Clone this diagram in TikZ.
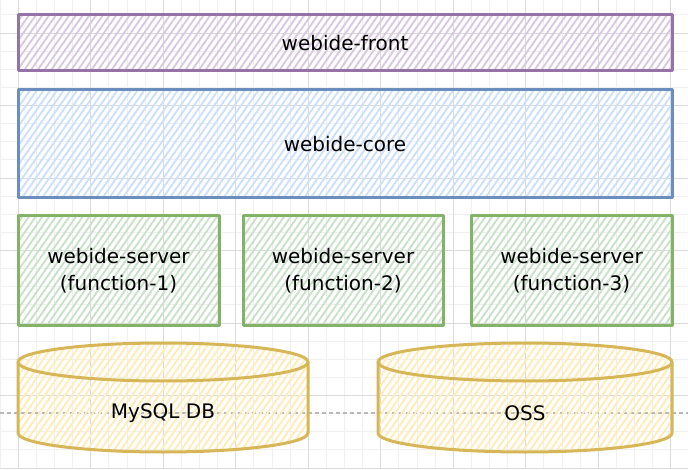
\documentclass[tikz,border=0pt]{standalone}
\usepackage{fontspec}
\setmainfont{DejaVu Sans}
\usepackage{tikz}
\usetikzlibrary{patterns.meta}

\definecolor{frontline}{HTML}{9673A6}
\definecolor{frontfill}{HTML}{D9C8E1}
\definecolor{coreline}{HTML}{6C8EBF}
\definecolor{corefill}{HTML}{CDE0FA}
\definecolor{serverline}{HTML}{82B366}
\definecolor{serverfill}{HTML}{C9E2C7}
\definecolor{dbline}{HTML}{D6B656}
\definecolor{dbfill}{HTML}{FFEDB8}

\tikzset{
  gridminor/.style={draw=black!6, line width=0.9pt},
  gridmajor/.style={draw=black!14, line width=0.9pt},
  hatch/.style={pattern={Lines[angle=55,distance=5.5pt,line width=1.9pt]}, pattern color=#1},
  layer/.style={draw, line width=3pt, line join=round, inner sep=0pt,
    align=center, font=\fontsize{20}{27}\selectfont},
  dbbody/.style={draw=dbline, line width=3pt, line join=round},
  dbtext/.style={font=\fontsize{20}{27}\selectfont}
}

\begin{document}
\begin{tikzpicture}[x=1pt, y=1pt]
  % Sizes
  \pgfmathsetmacro{\cell}{18.125}
  \pgfmathsetmacro{\ry}{19}
  \useasboundingbox (0,0) rectangle (688,469);
  \fill[white] (0,0) rectangle (688,469);

  % grid
  \foreach \i in {-1,...,37} {
    \pgfmathsetmacro{\gx}{18.2+\i*\cell}
    \draw[gridminor] (\gx,0) -- (\gx,469);
  }
  \foreach \i in {-2,...,25} {
    \pgfmathsetmacro{\gy}{436-\i*\cell}
    \draw[gridminor] (0,\gy) -- (688,\gy);
  }
  \foreach \i in {0,...,9} {
    \pgfmathsetmacro{\gx}{18.2+\i*4*\cell}
    \draw[gridmajor] (\gx,0) -- (\gx,469);
  }
  \foreach \i in {0,...,6} {
    \pgfmathsetmacro{\gy}{436-\i*4*\cell}
    \draw[gridmajor] (0,\gy) -- (688,\gy);
  }
  \draw[black!28, line width=1.2pt, dash pattern=on 4pt off 3pt] (0,56) -- (688,56);

  % layers
  \node[layer, draw=frontline, hatch=frontfill, minimum width=654pt, minimum height=56pt]
    (front) at (345,426) {webide-front};
  \node[layer, draw=coreline, hatch=corefill, minimum width=654pt, minimum height=108pt]
    (core) at (345,325) {webide-core};

  % servers
  \node[layer, draw=serverline, hatch=serverfill, minimum width=201pt, minimum height=109pt]
    (server1) at (118.5,198.5) {webide-server\\(function-1)};
  \node[layer, draw=serverline, hatch=serverfill, minimum width=200pt, minimum height=109pt]
    (server2) at (343,198.5) {webide-server\\(function-2)};
  \node[layer, draw=serverline, hatch=serverfill, minimum width=201pt, minimum height=109pt]
    (server3) at (571.5,198.5) {webide-server\\(function-3)};

  % storage
  \draw[dbbody, hatch=dbfill] (18,107) -- (18,36)
    arc[start angle=180, end angle=360, x radius=145pt, y radius=\ry pt] -- (308,107)
    arc[start angle=0, end angle=180, x radius=145pt, y radius=\ry pt] -- cycle;
  \draw[dbbody] (18,107) arc[start angle=180, end angle=360, x radius=145pt, y radius=\ry pt];
  \draw[dbbody, hatch=dbfill] (378,107) -- (378,36)
    arc[start angle=180, end angle=360, x radius=147pt, y radius=\ry pt] -- (672,107)
    arc[start angle=0, end angle=180, x radius=147pt, y radius=\ry pt] -- cycle;
  \draw[dbbody] (378,107) arc[start angle=180, end angle=360, x radius=147pt, y radius=\ry pt];

  % labels
  \node[dbtext] (mysql) at (163,56) {MySQL DB};
  \node[dbtext] (oss) at (525,56) {OSS};
\end{tikzpicture}
\end{document}
